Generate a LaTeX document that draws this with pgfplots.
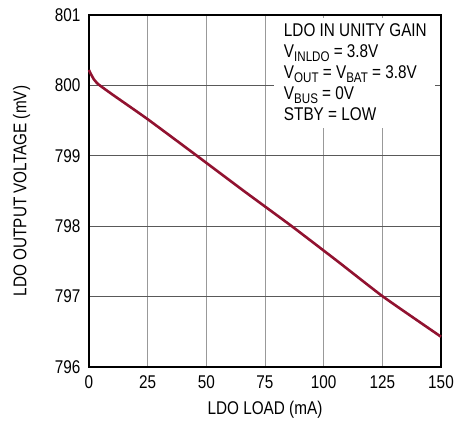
\documentclass[border=0pt]{standalone}
\usepackage{pgfplots}
\pgfplotsset{compat=1.18}
\usepackage{fontspec}
\setmainfont{Liberation Sans}[FakeStretch=0.83]
\definecolor{ldored}{RGB}{145,18,48}
\newcommand\sub[1]{\raisebox{-0.4ex}{\fontsize{14}{14}\selectfont #1}}
\begin{document}
\begin{tikzpicture}
\path[use as bounding box] (-89bp,-56bp) rectangle (367bp,367bp);
\begin{axis}[
  scale only axis,
  width=352bp, height=352bp,
  at={(0,0)}, anchor=south west,
  xmin=0, xmax=150, ymin=796, ymax=801,
  xtick={0,25,...,150}, ytick={796,797,...,801},
  major tick length=0pt,
  grid=major,
  x grid style={line width=1pt, color=black!40},
  y grid style={line width=1pt, color=black!65},
  axis line style={line width=1.3pt, black},
  /pgf/number format/assume math mode=true,
  /pgf/number format/set thousands separator={},
  ticklabel style={font=\fontsize{18.5}{19}\selectfont},
  xticklabel style={yshift=-5bp},
  yticklabel style={xshift=-5bp},
  xlabel={LDO LOAD (mA)},
  ylabel={LDO OUTPUT VOLTAGE (mV)},
  label style={font=\fontsize{18.5}{19}\selectfont},
  xlabel style={yshift=-6bp},
  ylabel style={yshift=18bp},
  clip=false,
]
\fill[white] (axis cs:78.8,800.96) rectangle (axis cs:147.4,799.4);
\node[anchor=north west, align=left, inner sep=0pt,
  font=\fontsize{18.5}{21}\selectfont]
  at (axis cs:83,800.88)
  {LDO IN UNITY GAIN\\
   V\sub{INLDO} = 3.8V\\
   V\sub{OUT} = V\sub{BAT} = 3.8V\\
   V\sub{BUS} = 0V\\
   STBY = LOW};
\addplot[color=ldored, line width=2.6pt, smooth, tension=0.3] coordinates {
  (0,800.22) (0.5,800.18) (1,800.15) (2,800.09) (3.5,800.03) (5,799.99)
  (10,799.87) (25,799.52) (46,799.0) (66,798.5) (86.4,798.0)
  (106,797.5) (125.3,797.0) (150,796.43)
};
\end{axis}
\end{tikzpicture}
\end{document}
